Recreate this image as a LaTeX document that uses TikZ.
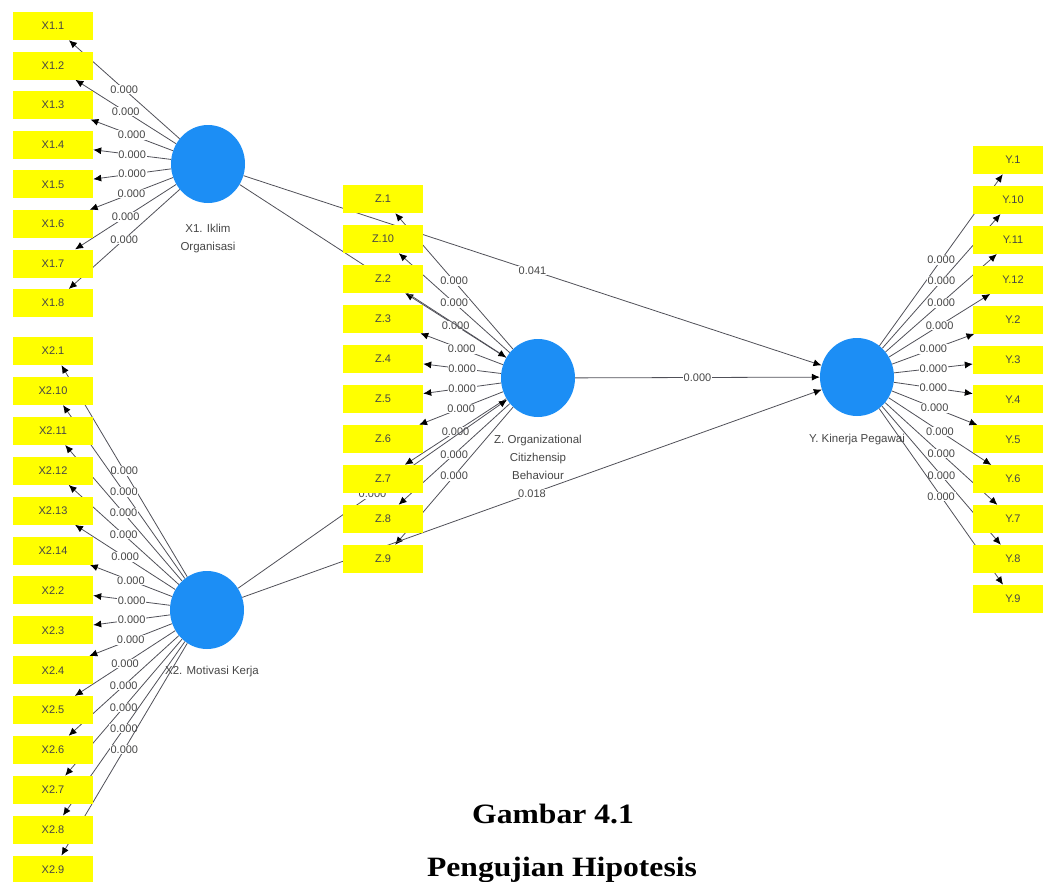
\documentclass[tikz,border=0pt]{standalone}
\usepackage{fontspec}
\setmainfont{Liberation Serif}
\setsansfont{Liberation Sans}
\usetikzlibrary{shapes,arrows.meta,backgrounds}
\definecolor{boxyel}{rgb}{1, 1, 0}
\definecolor{lvblue}{RGB}{28,142,245}
\definecolor{pathgray}{RGB}{80,80,88}
\definecolor{txtgray}{RGB}{70,70,70}
\tikzstyle{ind}=[rectangle,fill=boxyel,minimum width=80pt,minimum height=28pt,inner sep=0pt,font=\sffamily\fontsize{11}{12}\selectfont,text=txtgray]
\tikzstyle{lv}=[ellipse,fill=lvblue,minimum width=74pt,minimum height=78pt,inner sep=0pt]
\tikzstyle{lvlab}=[font=\sffamily\fontsize{11.5}{18}\selectfont,text=txtgray,align=center]
\tikzstyle{load}=[draw=pathgray,line width=0.8pt,-{Latex[length=8pt,width=7pt,color=black]}]
\tikzstyle{coef}=[fill=white,inner sep=0.8pt,font=\sffamily\fontsize{11}{12}\selectfont,text=txtgray]
\tikzstyle{capt}=[font=\bfseries\fontsize{28}{34}\selectfont,anchor=base]

\begin{document}
\begin{tikzpicture}[x=1pt,y=-1pt]
\useasboundingbox (0,0) rectangle (1043,881);
\clip (0,0) rectangle (1043,881);
% latent variables
\node[lv] (X1) at (208,164) {};
\node[lv] (X2) at (207,610) {};
\node[lv] (Z) at (538,378) {};
\node[lv] (Y) at (857,377) {};
\node[lvlab] (X1lab) at (208,239) {X1. Iklim\\Organisasi};
\node[lvlab] (X2lab) at (212,672) {X2. Motivasi Kerja};
\node[lvlab] (Zlab) at (538,457) {Z. Organizational\\Citizhensip\\Behaviour};
\node[lvlab] (Ylab) at (857,440) {Y. Kinerja Pegawai};
% indicators
\foreach \lab [count=\i] in {X1.1,X1.2,X1.3,X1.4,X1.5,X1.6,X1.7,X1.8}
  \node[ind] (x1-\i) at (53,{26+39.6*(\i-1)}) {\lab};
\foreach \lab [count=\i] in {X2.1,X2.10,X2.11,X2.12,X2.13,X2.14,X2.2,X2.3,X2.4,X2.5,X2.6,X2.7,X2.8,X2.9}
  \node[ind] (x2-\i) at (53,{351+39.9*(\i-1)}) {\lab};
\foreach \lab [count=\i] in {Z.1,Z.10,Z.2,Z.3,Z.4,Z.5,Z.6,Z.7,Z.8,Z.9}
  \node[ind] (z-\i) at (383,{199+40*(\i-1)}) {\lab};
\foreach \lab [count=\i] in {Y.1,Y.10,Y.11,Y.12,Y.2,Y.3,Y.4,Y.5,Y.6,Y.7,Y.8,Y.9}
  \node[ind] (y-\i) at (1013,{160+39.9*(\i-1)}) {\lab};
% loadings and paths behind the boxes
\begin{scope}[on background layer]
\foreach \i in {1,...,8} \draw[load] (X1) -- node[coef] {0.000} (x1-\i);
\foreach \i in {1,...,14} \draw[load] (X2) -- node[coef] {0.000} (x2-\i);
\foreach \i in {1,...,10} \draw[load] (Z) -- node[coef] {0.000} (z-\i);
\foreach \i in {1,...,12} \draw[load] (Y) -- node[coef] {0.000} (y-\i);
\draw[load] (X1) -- (Z);
\draw[load] (X2) -- node[coef] {0.000} (Z);
\draw[load] (X1) -- node[coef] {0.041} (Y);
\draw[load] (X2) -- node[coef] {0.018} (Y);
\draw[load] (Z) -- node[coef] {0.000} (Y);
\end{scope}
% caption
\node[capt] (cap1) at (553,823) {\scalebox{1.13}[1]{Gambar 4.1}};
\node[capt] (cap2) at (562,876) {\scalebox{1.13}[1]{Pengujian Hipotesis}};
\end{tikzpicture}
\end{document}
